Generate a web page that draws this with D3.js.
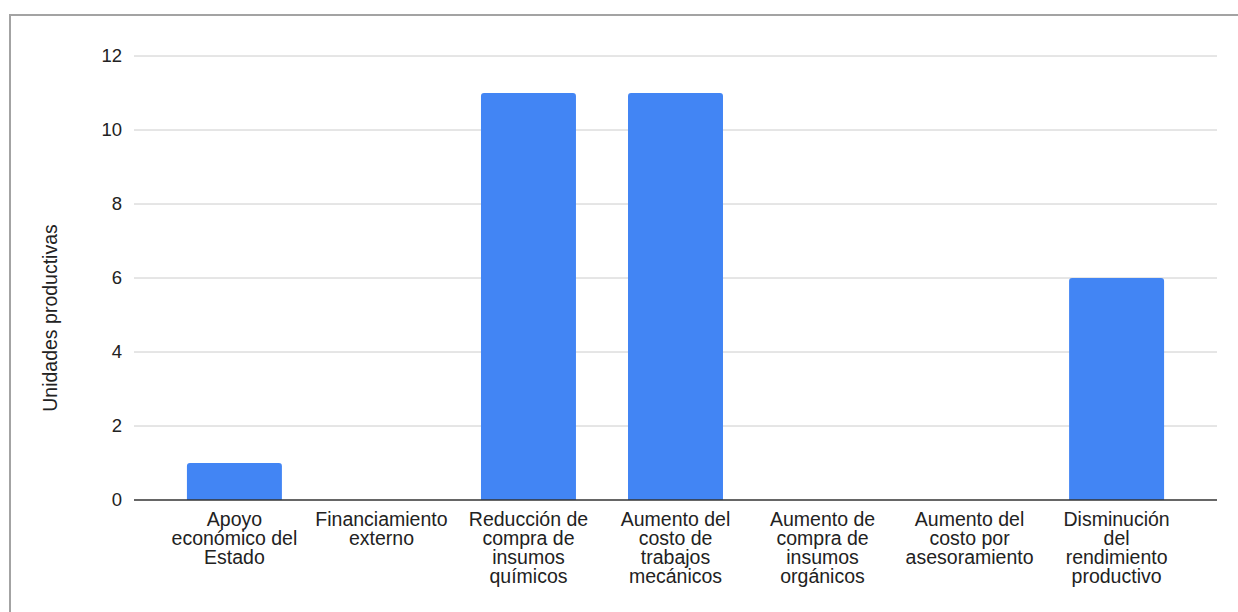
<!DOCTYPE html>
<html>
<head>
<meta charset="utf-8">
<script src="https://cdn.jsdelivr.net/npm/d3@7"></script>
<style>
    body { margin: 0; background: #fff; }
    text { font-family: "Liberation Sans", Arial, sans-serif; fill: #222; }
</style>
</head>
<body>
<svg id="chart" width="1238" height="612"></svg>
<script>
// categories (line breaks as in the original labels)
const categories = [
    'Apoyo\neconómico del\nEstado',
    'Financiamiento\nexterno',
    'Reducción de\ncompra de\ninsumos\nquímicos',
    'Aumento del\ncosto de\ntrabajos\nmecánicos',
    'Aumento de\ncompra de\ninsumos\norgánicos',
    'Aumento del\ncosto por\nasesoramiento',
    'Disminución\ndel\nrendimiento\nproductivo'
];
const values = [1, 0, 11, 11, 0, 0, 6];
const yTicks = [0, 2, 4, 6, 8, 10, 12];
const yLabel = 'Unidades productivas';

const svg = d3.select('#chart');
const margin = {left: 134, right: 1217, top: 56, bottom: 500};

// outer frame, runs off the right and bottom edge like the screenshot
svg.append('rect')
    .attr('x', 10).attr('y', 15)
    .attr('width', 1260).attr('height', 640)
    .attr('fill', 'none')
    .attr('stroke', '#a3a3a3')
    .attr('stroke-width', 2);

const x = d3.scaleBand()
    .domain(categories)
    .range([margin.left, margin.right])
    .paddingInner(0.354)
    .paddingOuter(0.36);

const y = d3.scaleLinear()
    .domain([0, 12])
    .range([margin.bottom, margin.top]);

// gridlines
svg.append('g').selectAll('line')
    .data(yTicks.filter((d) => d !== 0))
    .join('line')
    .attr('x1', margin.left).attr('x2', margin.right)
    .attr('y1', (d) => y(d)).attr('y2', (d) => y(d))
    .attr('stroke', '#cccccc')
    .attr('stroke-width', 1);

// y tick labels
const yAxis = svg.append('g')
    .attr('transform', 'translate(' + margin.left + ',0)')
    .call(d3.axisLeft(y).tickValues(yTicks).tickSize(0).tickPadding(12));
yAxis.select('.domain').remove();
yAxis.selectAll('text')
    .attr('font-size', 18.5)
    .attr('font-family', '"Liberation Sans", Arial, sans-serif')
    .attr('fill', '#222');

// bars with rounded top corners
const r = 3;
const barPath = (d, i) => {
    const x0 = x(categories[i]);
    const w = x.bandwidth();
    const y0 = y(d);
    const h = y(0) - y0;
    if (h <= 0) return '';
    const rr = Math.min(r, h);
    return 'M' + x0 + ',' + y(0) +
        'V' + (y0 + rr) +
        'Q' + x0 + ',' + y0 + ' ' + (x0 + rr) + ',' + y0 +
        'H' + (x0 + w - rr) +
        'Q' + (x0 + w) + ',' + y0 + ' ' + (x0 + w) + ',' + (y0 + rr) +
        'V' + y(0) + 'Z';
};

svg.append('g').selectAll('path')
    .data(values)
    .join('path')
    .attr('d', barPath)
    .attr('fill', '#4285f4');

// baseline
svg.append('line')
    .attr('x1', margin.left).attr('x2', margin.right)
    .attr('y1', y(0)).attr('y2', y(0))
    .attr('stroke', '#333333')
    .attr('stroke-width', 1.5);

// category labels
const xLabels = svg.append('g').selectAll('text')
    .data(categories)
    .join('text')
    .attr('text-anchor', 'middle')
    .attr('font-size', 19.5)
    .attr('transform', (d) => 'translate(' + (x(d) + x.bandwidth() / 2) + ',526)');

xLabels.selectAll('tspan')
    .data((d) => d.split('\n'))
    .join('tspan')
    .attr('x', 0)
    .attr('y', (d, i) => i * 19.1)
    .text((d) => d);

// y axis title
svg.append('text')
    .attr('transform', 'translate(57,318) rotate(-90)')
    .attr('text-anchor', 'middle')
    .attr('font-size', 19.5)
    .text(yLabel);
</script>
</body>
</html>
